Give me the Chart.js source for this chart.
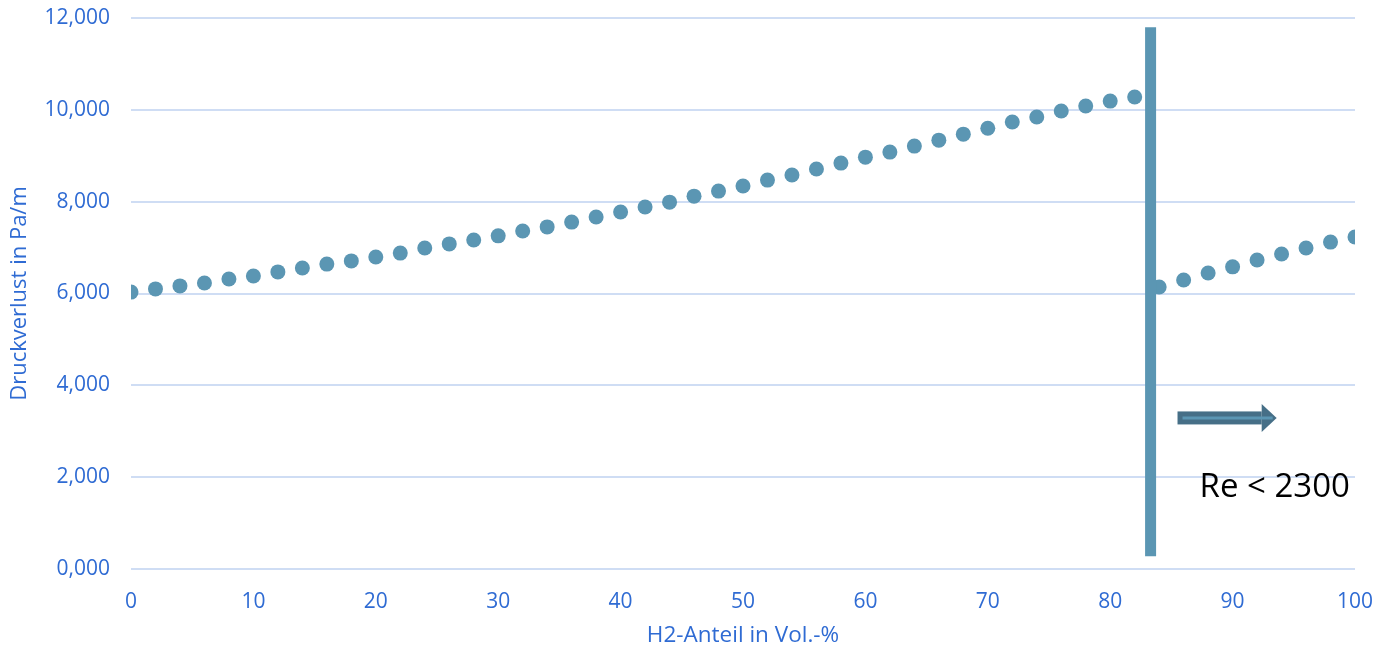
<!DOCTYPE html>
<html>
<head>
<meta charset="utf-8">
<script src="https://cdn.jsdelivr.net/npm/chart.js@4"></script>
<style>
  html, body { margin: 0; padding: 0; background: #fff; }
  #wrap { width: 1376px; height: 649px; }
</style>
</head>
<body>
<div id="wrap"><canvas id="chart"></canvas></div>
<script>
// H2-Anteil (x) und Druckverlust (y)
const h2Anteil = [0, 2, 4, 6, 8, 10, 12, 14, 16, 18, 20, 22, 24, 26, 28, 30, 32, 34, 36, 38, 40,
  42, 44, 46, 48, 50, 52, 54, 56, 58, 60, 62, 64, 66, 68, 70, 72, 74, 76, 78, 80, 82,
  84, 86, 88, 90, 92, 94, 96, 98, 100];
const druckverlust = [6030, 6100, 6165, 6230, 6315, 6380, 6470, 6555, 6640, 6710, 6795, 6880,
  6990, 7080, 7165, 7255, 7360, 7450, 7555, 7665, 7775, 7885, 7990, 8120, 8230, 8340,
  8470, 8580, 8710, 8840, 8970, 9080, 9210, 9340, 9470, 9600, 9735, 9845, 9975, 10085,
  10190, 10280,
  6140, 6295, 6445, 6580, 6730, 6860, 6990, 7120, 7230];
const yTickLabels = ["0,000", "2,000", "4,000", "6,000", "8,000", "10,000", "12,000"];

// Grenzlinie laminar / turbulent
const grenzeX = [83.3, 83.3];
const grenzeY = [11800, 280];
// Pfeil und Beschriftung (Datenkoordinaten)
const pfeilX = [85.5, 93.6];
const pfeilY = 3290;
const textPos = [87.3, 1570];
const textLabel = "Re < 2300";

const blau = "#5b96b3";
const schrift = "#2f6bd3";

// Pfeil + Text zeichnen
const annotPlugin = {
  id: "annot",
  afterDatasetsDraw(chart) {
    const { ctx, scales } = chart;
    const x1 = scales.x.getPixelForValue(pfeilX[0]);
    const x2 = scales.x.getPixelForValue(pfeilX[1]);
    const y = scales.y.getPixelForValue(pfeilY);
    const head = 15;
    ctx.save();
    ctx.fillStyle = "#466f87";
    ctx.fillRect(x1, y - 6.5, x2 - head - x1, 13);
    ctx.beginPath();
    ctx.moveTo(x2 - head, y - 14);
    ctx.lineTo(x2, y);
    ctx.lineTo(x2 - head, y + 14);
    ctx.closePath();
    ctx.fill();
    ctx.strokeStyle = blau;
    ctx.lineWidth = 3;
    ctx.beginPath();
    ctx.moveTo(x1 + 5, y);
    ctx.lineTo(x2 - 4, y);
    ctx.stroke();

    ctx.fillStyle = "#000";
    ctx.font = "33px 'Open Sans'";
    ctx.textBaseline = "alphabetic";
    ctx.fillText(textLabel, scales.x.getPixelForValue(textPos[0]), scales.y.getPixelForValue(textPos[1]));
    ctx.restore();
  },
};

const ctx = document.getElementById("chart").getContext("2d");
new Chart(ctx, {
  type: "scatter",
  data: {
    datasets: [
      {
        type: "line",
        data: grenzeX.map((x, i) => ({ x, y: grenzeY[i] })),
        borderColor: blau,
        borderWidth: 11,
        borderCapStyle: "butt",
        pointRadius: 0,
        order: 0,
      },
      {
        data: h2Anteil.map((x, i) => ({ x, y: druckverlust[i] })),
        backgroundColor: blau,
        borderWidth: 0,
        pointRadius: 7.5,
        order: 1,
      },
    ],
  },
  options: {
    responsive: true,
    maintainAspectRatio: false,
    animation: false,
    layout: { padding: { top: 18, right: 21, left: 0, bottom: 0 } },
    plugins: { legend: { display: false }, tooltip: { enabled: false } },
    scales: {
      x: {
        type: "linear",
        min: 0,
        max: 100,
        grid: { display: false },
        border: { display: false },
        ticks: { stepSize: 10, color: schrift, font: { family: "Open Sans", size: 21 }, padding: 12 },
        title: { display: true, text: "H2-Anteil in Vol.-%", color: schrift, font: { family: "Open Sans", size: 22.5 }, padding: { top: 10, bottom: 0 } },
        afterFit(scale) {
          scale.height = 80;
          scale.paddingLeft = 0;
          scale.paddingRight = 0;
        },
      },
      y: {
        min: 0,
        max: 12000,
        grid: { color: "#cfddf4", lineWidth: 2, drawTicks: false },
        border: { display: false },
        ticks: {
          stepSize: 2000,
          color: schrift,
          font: { family: "Open Sans", size: 21 },
          padding: 21,
          callback: (v) => yTickLabels[v / 2000],
        },
        title: { display: true, text: "Druckverlust in Pa/m", color: schrift, font: { family: "Open Sans", size: 22 }, padding: { top: 7, bottom: 0 } },
        afterFit(scale) {
          scale.width = 131;
          scale.paddingTop = 0;
          scale.paddingBottom = 0;
        },
      },
    },
  },
  plugins: [annotPlugin],
});
</script>
</body>
</html>
